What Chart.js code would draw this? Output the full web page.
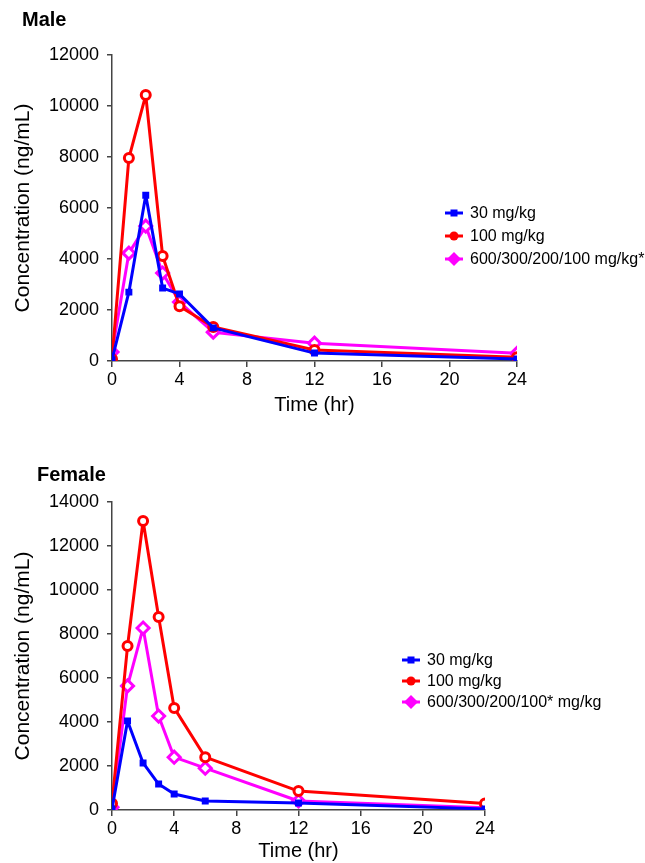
<!DOCTYPE html>
<html>
<head>
<meta charset="utf-8">
<script src="https://cdn.jsdelivr.net/npm/chart.js@4.4.1/dist/chart.umd.min.js"></script>
<style>
  html, body { margin: 0; padding: 0; background: #fff; }
  .box { position: relative; width: 645px; }
  canvas { display: block; }
</style>
</head>
<body>
<div class="box" style="height:430px"><canvas id="maleChart" width="645" height="430"></canvas></div>
<div class="box" style="height:433px"><canvas id="femaleChart" width="645" height="433"></canvas></div>
<script>
// sampling times (hr)
const times = [0, 1, 2, 3, 4, 6, 12, 24];

// male concentrations (ng/mL)
const maleLow  = [50, 2700, 6500, 2860, 2630, 1300, 310, 80];
const maleMid  = [80, 7960, 10430, 4120, 2150, 1330, 430, 150];
const maleHigh = [350, 4230, 5290, 3450, 2310, 1130, 700, 300];

// female concentrations (ng/mL)
const femaleLow  = [50, 4050, 2140, 1180, 730, 410, 320, 50];
const femaleMid  = [300, 7450, 13140, 8770, 4640, 2400, 860, 300];
const femaleHigh = [130, 5640, 8270, 4270, 2400, 1900, 410, 100];

const maleLabels = ['30 mg/kg', '100 mg/kg', '600/300/200/100 mg/kg*'];
const femaleLabels = ['30 mg/kg', '100 mg/kg', '600/300/200/100* mg/kg'];

const xTicks = [0, 4, 8, 12, 16, 20, 24];

const FONT = 'Liberation Sans, Arial, sans-serif';

function pts(vals) {
    return vals.map((v, i) => ({ x: times[i], y: v }));
}

function makeSets(labels, low, mid, high) {
    const common = { borderWidth: 3, borderJoinStyle: 'round', borderCapStyle: 'round' };
    return [
        { ...common, label: labels[0], data: pts(low), borderColor: '#0000ff', backgroundColor: '#0000ff',
          pointStyle: 'rect', pointRadius: 3.5, pointBorderWidth: 2 },
        { ...common, label: labels[1], data: pts(mid), borderColor: '#ff0000', backgroundColor: '#ffffff',
          pointStyle: 'circle', pointRadius: 4.5, pointBorderWidth: 3 },
        { ...common, label: labels[2], data: pts(high), borderColor: '#ff00ff', backgroundColor: '#ffffff',
          pointStyle: 'rectRot', pointRadius: 6, pointBorderWidth: 3 }
    ];
}

// draws the panel title and the legend box
const decor = {
    id: 'decor',
    afterDraw(chart, args, opts) {
        const c = chart.ctx;
        c.save();
        c.fillStyle = '#000';
        c.font = 'bold 20px ' + FONT;
        c.textBaseline = 'middle';
        c.fillText(opts.title, opts.titleX, opts.titleY);
        c.font = '16px ' + FONT;
        chart.data.datasets.forEach((ds, i) => {
            const y = opts.legY + i * opts.legGap;
            const x = opts.legX;
            c.strokeStyle = ds.borderColor;
            c.fillStyle = ds.borderColor;
            c.lineWidth = 3;
            c.beginPath();
            c.moveTo(x, y);
            c.lineTo(x + 18, y);
            c.stroke();
            c.beginPath();
            const mx = x + 9;
            if (ds.pointStyle === 'rect') {
                c.fillRect(mx - 3.5, y - 3.5, 7, 7);
            } else if (ds.pointStyle === 'circle') {
                c.arc(mx, y, 4.5, 0, Math.PI * 2);
                c.fill();
            } else {
                c.moveTo(mx, y - 7); c.lineTo(mx + 7, y); c.lineTo(mx, y + 7); c.lineTo(mx - 7, y);
                c.closePath();
                c.fill();
            }
            c.fillStyle = '#000';
            c.fillText(ds.label, x + 25, y + 1);
        });
        c.restore();
    }
};

function makeChart(id, sets, yMax, pad, xH, dec) {
    return new Chart(document.getElementById(id), {
        type: 'line',
        data: { datasets: sets },
        options: {
            responsive: false,
            animation: false,
            layout: { padding: pad },
            plugins: { legend: { display: false }, tooltip: { enabled: false }, decor: dec },
            scales: {
                x: {
                    type: 'linear', min: 0, max: 24,
                    afterBuildTicks: s => { s.ticks = xTicks.map(v => ({ value: v })); },
                    afterFit: s => { s.height = xH; },
                    border: { color: '#444', width: 1.5 },
                    grid: { drawOnChartArea: false, tickLength: 6, color: '#444', lineWidth: 1.5 },
                    ticks: { color: '#000', font: { family: FONT, size: 18 }, padding: 2, maxRotation: 0 },
                    title: { display: true, text: 'Time (hr)', color: '#000', font: { family: FONT, size: 20 }, padding: { top: 0, bottom: 0 } }
                },
                y: {
                    min: 0, max: yMax,
                    ticks: { stepSize: 2000, color: '#000', font: { family: FONT, size: 18 }, padding: 8,
                             callback: v => String(v) },
                    afterFit: s => { s.width = 101; },
                    border: { color: '#444', width: 1.5 },
                    grid: { drawOnChartArea: false, tickLength: 5, color: '#444', lineWidth: 1.5 },
                    title: { display: true, text: 'Concentration (ng/mL)', color: '#000', font: { family: FONT, size: 21 }, padding: { top: 0, bottom: 0 } }
                }
            }
        },
        plugins: [decor]
    });
}

makeChart('maleChart', makeSets(maleLabels, maleLow, maleMid, maleHigh), 12000,
    { left: 11, right: 128, top: 55, bottom: 13 }, 56,
    { title: 'Male', titleX: 22, titleY: 20, legX: 445, legY: 213, legGap: 23 });

makeChart('femaleChart', makeSets(femaleLabels, femaleLow, femaleMid, femaleHigh), 14000,
    { left: 11, right: 160, top: 72, bottom: 0 }, 53,
    { title: 'Female', titleX: 37, titleY: 45, legX: 402, legY: 230, legGap: 21 });
</script>
</body>
</html>
